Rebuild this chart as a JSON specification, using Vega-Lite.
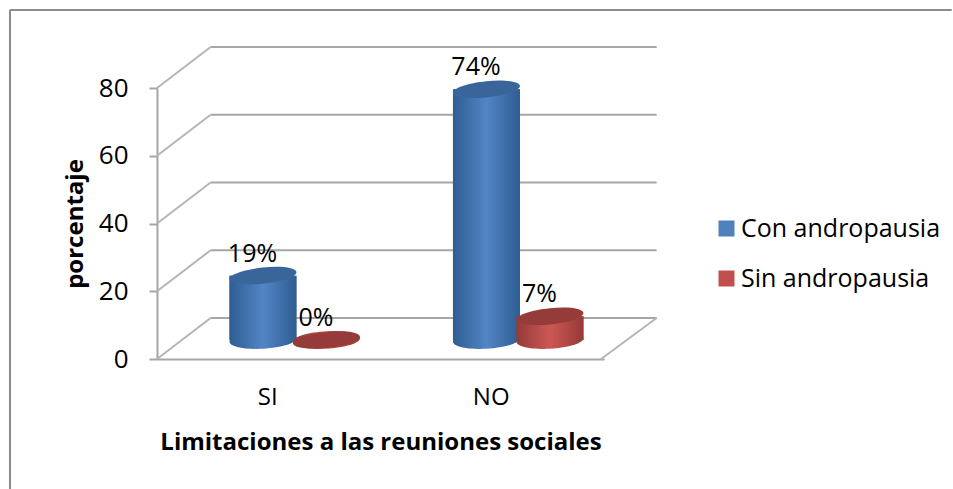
{
"$schema":"https://vega.github.io/schema/vega-lite/v6.json",
"width":447,"height":271,
"autosize":{"type":"none"},
"padding":{"left":157,"top":88,"right":349,"bottom":130},
"background":"white",
"config":{"view":{"stroke":null},"font":"Open Sans"},
"datasets":{
"bars":[
{"grupo":"SI","serie":"Con andropausia","valor":19,"etiqueta":"19%"},
{"grupo":"SI","serie":"Sin andropausia","valor":0,"etiqueta":"0%"},
{"grupo":"NO","serie":"Con andropausia","valor":74,"etiqueta":"74%"},
{"grupo":"NO","serie":"Sin andropausia","valor":7,"etiqueta":"7%"}],
"grid":[{"v":0},{"v":20},{"v":40},{"v":60},{"v":80}]
},
"layer":[
{"layer":[
{"data":{"values":[{"a":1}]},"mark":{"type":"rule","stroke":"#8c8c8c","strokeWidth":2,"clip":false},
 "encoding":{"x":{"datum":-148,"type":"quantitative","scale":{"domain":[0,447]},"axis":null},"x2":{"datum":800},"y":{"datum":103,"type":"quantitative"},"y2":{"datum":103}}},
{"data":{"values":[{"a":1}]},"mark":{"type":"rule","stroke":"#8c8c8c","strokeWidth":2,"clip":false},
 "encoding":{"x":{"datum":-148,"type":"quantitative"},"x2":{"datum":-148},"y":{"datum":103,"type":"quantitative"},"y2":{"datum":-60}}},
{"data":{"name":"grid"},"mark":{"type":"rule","stroke":"#a6a6a6","strokeWidth":2,"yOffset":-41,"y2Offset":-41},
 "encoding":{"x":{"datum":54,"type":"quantitative"},"x2":{"datum":503},"y":{"field":"v","type":"quantitative"},"y2":{"field":"v"}}},
{"data":{"name":"grid"},"mark":{"type":"rule","stroke":"#b5b5b5","strokeWidth":2,"y2Offset":-41},
 "encoding":{"x":{"datum":0,"type":"quantitative"},"x2":{"datum":54},"y":{"field":"v","type":"quantitative"},"y2":{"field":"v"}}},
{"data":{"values":[{"v":0}]},"mark":{"type":"rule","stroke":"#b5b5b5","strokeWidth":2,"y2Offset":-41},
 "encoding":{"x":{"datum":447,"type":"quantitative"},"x2":{"datum":503},"y":{"field":"v","type":"quantitative"},"y2":{"field":"v"}}}
]},
{"data":{"name":"bars"},
 "encoding":{
  "x":{"field":"grupo","type":"nominal","sort":["SI","NO"],
    "scale":{"paddingInner":0.4318,"paddingOuter":0.2159,"align":0.769},
    "axis":{"orient":"bottom","title":"Limitaciones a las reuniones sociales","titleFontSize":24,"titleFontWeight":"bold","titleColor":"#000000","titlePadding":21,
      "labelFontSize":24,"labelColor":"#000000","labelAngle":0,"labelPadding":26,"labelOffset":-27,"ticks":false,"domainColor":"#a6a6a6","domainWidth":2,"grid":false}},
  "xOffset":{"field":"serie","type":"nominal","sort":["Con andropausia","Sin andropausia"]},
  "y":{"field":"valor","type":"quantitative","scale":{"domain":[0,80],"nice":false},
    "axis":{"title":"porcentaje","titleFontSize":24,"titleFontWeight":"bold","titleColor":"#000000","titlePadding":11,"values":[0,20,40,60,80],
      "labelFontSize":26,"labelColor":"#000000","labelPadding":21,"tickSize":8,"tickColor":"#a6a6a6","tickWidth":2,"domainColor":"#a6a6a6","domainWidth":2,"grid":false}}
 },
 "layer":[
 {"mark":{"type":"bar","width":67,"yOffset":-19,"y2Offset":-19},
  "encoding":{"color":{"field":"serie","type":"nominal","sort":["Con andropausia","Sin andropausia"],
    "scale":{"domain":["Con andropausia","Sin andropausia"],"range":["#4f81bd","#c0504d"]},
    "legend":{"title":null,"orient":"none","legendX":557,"legendY":128,"symbolType":"square","symbolSize":256,"symbolStrokeWidth":0,"labelFontSize":25,"labelColor":"#000000","labelOffset":2,"rowPadding":24,"labelLimit":300}}}},
 {"transform":[{"filter":"datum.serie==='Con andropausia'"}],
  "layer":[
  {"mark":{"type":"point","filled":true,"yOffset":-19,"size":4489,"opacity":1,
    "shape":"M-1,0.05 A1,0.26 -3 1 1 1,-0.05 A1,0.26 -3 1 1 -1,0.05 Z",
    "fill":{"gradient":"linear","x1":0,"x2":1,"y1":0,"y2":0,"stops":[{"offset":0,"color":"#2f5d92"},{"offset":0.5,"color":"#5285c6"},{"offset":1,"color":"#2f5d92"}]}},
   "encoding":{"y":{"datum":0,"type":"quantitative"}}},
  {"mark":{"type":"bar","width":67,"yOffset":-19,"y2Offset":-19,
    "fill":{"gradient":"linear","x1":0,"x2":1,"y1":0,"y2":0,"stops":[{"offset":0,"color":"#2f5d92"},{"offset":0.5,"color":"#5285c6"},{"offset":1,"color":"#2f5d92"}]}}},
  {"mark":{"type":"point","filled":true,"yOffset":-19,"size":4489,"opacity":1,"fill":"#3a659b",
    "shape":"M-1,0.1 A1,0.24 -6 1 1 1,-0.1 A1,0.24 -6 1 1 -1,0.1 Z"}}
  ]},
 {"transform":[{"filter":"datum.serie==='Sin andropausia'"}],
  "layer":[
  {"mark":{"type":"point","filled":true,"yOffset":-19,"size":4489,"opacity":1,
    "shape":"M-1,0.05 A1,0.26 -3 1 1 1,-0.05 A1,0.26 -3 1 1 -1,0.05 Z",
    "fill":{"gradient":"linear","x1":0,"x2":1,"y1":0,"y2":0,"stops":[{"offset":0,"color":"#953a38"},{"offset":0.5,"color":"#cc5855"},{"offset":1,"color":"#953a38"}]}},
   "encoding":{"y":{"datum":0,"type":"quantitative"}}},
  {"mark":{"type":"bar","width":67,"yOffset":-19,"y2Offset":-19,
    "fill":{"gradient":"linear","x1":0,"x2":1,"y1":0,"y2":0,"stops":[{"offset":0,"color":"#953a38"},{"offset":0.5,"color":"#cc5855"},{"offset":1,"color":"#953a38"}]}}},
  {"mark":{"type":"point","filled":true,"yOffset":-19,"size":4489,"opacity":1,"fill":"#953b39",
    "shape":"M-1,0.1 A1,0.24 -6 1 1 1,-0.1 A1,0.24 -6 1 1 -1,0.1 Z"}}
  ]},
 {"mark":{"type":"text","fontSize":25,"color":"#000000","baseline":"middle","align":"center","dx":-10.5,"yOffset":-41},
  "encoding":{"text":{"field":"etiqueta"}}}
 ]}
],
"resolve":{"scale":{"x":"independent"}}
}
